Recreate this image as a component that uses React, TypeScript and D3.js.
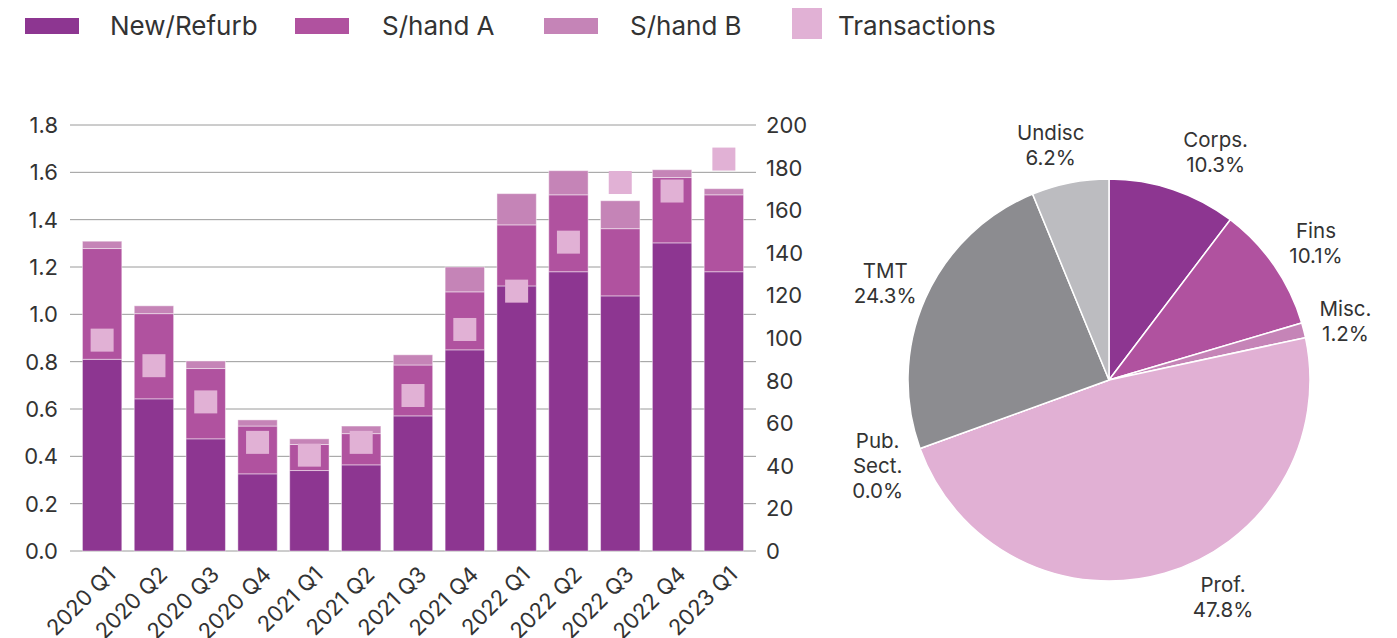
import React from 'react';
import * as d3 from 'd3';

const quarters = ['2020 Q1', '2020 Q2', '2020 Q3', '2020 Q4', '2021 Q1', '2021 Q2', '2021 Q3', '2021 Q4', '2022 Q1', '2022 Q2', '2022 Q3', '2022 Q4', '2023 Q1'];
const newRefurb = [0.81, 0.643, 0.474, 0.326, 0.34, 0.364, 0.571, 0.85, 1.12, 1.18, 1.078, 1.302, 1.18];
const shandA = [0.468, 0.36, 0.297, 0.202, 0.11, 0.132, 0.215, 0.245, 0.258, 0.325, 0.284, 0.276, 0.325];
const shandB = [0.031, 0.033, 0.032, 0.026, 0.024, 0.032, 0.043, 0.105, 0.132, 0.102, 0.118, 0.033, 0.026];
const transactions = [99, 87, 70, 51, 45, 51, 73, 104, 122, 145, 173, 169, 184];
const leftTicks = [0, 0.2, 0.4, 0.6, 0.8, 1.0, 1.2, 1.4, 1.6, 1.8];
const rightTicks = [0, 20, 40, 60, 80, 100, 120, 140, 160, 180, 200];

const sectors = ['Corps.', 'Fins', 'Misc.', 'Prof.', 'Pub. Sect.', 'TMT', 'Undisc'];
const sectorShares = [10.3, 10.1, 1.2, 47.8, 0.0, 24.3, 6.2];

const seriesNames = ['New/Refurb', 'S/hand A', 'S/hand B'];
const seriesColors = ['#8D3691', '#B0529F', '#C584B7'];
const txColor = '#E1B1D5';
const sectorColors = ['#8D3691', '#B0529F', '#C584B7', '#E1B0D4', '#D9D9DC', '#8C8C90', '#BCBCC0'];

const W = 1397;
const H = 638;
const FONT = 'Inter, "Noto Sans", sans-serif';
const TEXT = '#333333';

export default function App() {
  const plot = { left: 70, right: 756, top: 125, bottom: 551 };
  const x = d3.scaleBand<string>().domain(quarters).range([plot.left, plot.right]).padding(0.24);
  const yL = d3.scaleLinear().domain([0, 1.8]).range([plot.bottom, plot.top]);
  const yR = d3.scaleLinear().domain([0, 200]).range([plot.bottom, plot.top]);

  const rows = quarters.map((q, i) => ({ q, a: newRefurb[i], b: shandA[i], c: shandB[i] }));
  const stack = d3.stack<any>().keys(['a', 'b', 'c'])(rows);

  // pie
  const cx = 1109, cy = 380, R = 201;
  const pieGen = d3.pie<number>().sort(null).value((d) => d);
  const arcs = pieGen(sectorShares);
  const arcGen = d3.arc<d3.PieArcDatum<number>>().innerRadius(0).outerRadius(R);
  const lineH = 25;
  const sq = 23;

  const legendItems = [
    { name: seriesNames[0], color: seriesColors[0], x: 25, tx: 110, kind: 'rect' },
    { name: seriesNames[1], color: seriesColors[1], x: 295, tx: 382, kind: 'rect' },
    { name: seriesNames[2], color: seriesColors[2], x: 544, tx: 630, kind: 'rect' },
    { name: 'Transactions', color: txColor, x: 792, tx: 838, kind: 'square' },
  ];

  return (
    <svg width={W} height={H} style={{ position: 'absolute', left: 0, top: 0, background: '#fff' }} fontFamily={FONT}>
      {/* legend */}
      <g>
        {legendItems.map((it) => (
          <g key={it.name}>
            {it.kind === 'rect' ? (
              <rect x={it.x} y={18} width={54} height={16} fill={it.color} />
            ) : (
              <rect x={it.x} y={8} width={30} height={31} fill={it.color} />
            )}
            <text x={it.tx} y={25} dominantBaseline="central" fontSize={26} fill={TEXT}>{it.name}</text>
          </g>
        ))}
      </g>

      {/* gridlines */}
      <g>
        {leftTicks.map((t) => (
          <line key={t} x1={plot.left} x2={plot.right} y1={yL(t)} y2={yL(t)} stroke="#9a9a9a" strokeWidth={1} />
        ))}
      </g>
      {/* left ticks */}
      <g fontSize={22} fill={TEXT}>
        {leftTicks.map((t) => (
          <text key={t} x={58} y={yL(t)} textAnchor="end" dominantBaseline="central">{t.toFixed(1)}</text>
        ))}
      </g>
      {/* right ticks */}
      <g fontSize={22} fill={TEXT}>
        {rightTicks.map((t) => (
          <text key={t} x={766} y={yR(t)} textAnchor="start" dominantBaseline="central">{t}</text>
        ))}
      </g>

      {/* bars */}
      <g>
        {stack.map((layer, li) => (
          <g key={li} fill={seriesColors[li]}>
            {layer.map((d: any, i: number) => (
              <rect
                key={i}
                x={x(quarters[i])}
                y={yL(d[1])}
                width={x.bandwidth()}
                height={Math.max(0, yL(d[0]) - yL(d[1]))}
                stroke="#ffffff"
                strokeOpacity={0.45}
                strokeWidth={1}
              />
            ))}
          </g>
        ))}
      </g>

      {/* transactions markers */}
      <g fill={txColor}>
        {transactions.map((v, i) => (
          <rect key={i} x={(x(quarters[i]) as number) + x.bandwidth() / 2 - sq / 2} y={yR(v) - sq / 2} width={sq} height={sq} />
        ))}
      </g>

      {/* x labels */}
      <g fontSize={22} fill={TEXT}>
        {quarters.map((q) => {
          const px = (x(q) as number) + x.bandwidth() / 2 + 4;
          const py = 565;
          return (
            <text key={q} transform={`translate(${px},${py}) rotate(-45)`} textAnchor="end" dy="0.7em">{q}</text>
          );
        })}
      </g>

      {/* pie */}
      <g transform={`translate(${cx},${cy})`}>
        {arcs.map((a, i) => (
          <path key={i} d={arcGen(a) as string} fill={sectorColors[i]} stroke="#ffffff" strokeWidth={1.5} />
        ))}
        {arcs.map((a, i) => {
          const mid = (a.startAngle + a.endAngle) / 2;
          const s = Math.sin(mid), c = Math.cos(mid);
          const sg = s >= 0 ? 1 : -1;
          const pr = R + 14;
          const px = pr * s;
          const py = -pr * c;
          const lines = [...sectors[i].split(' '), `${sectorShares[i].toFixed(1)}%`];
          const h = lines.length * lineH;
          const vf = c < 0 ? 1 - 0.6 * c * c : 1;
          const centerY = py - c * (h / 2) * vf;
          const shift = 28 * sg + 12 * Math.pow(Math.max(0, c), 3) + 30 * Math.pow(Math.max(0, -c), 3) * sg;
          const y0 = centerY - h / 2 + lineH / 2;
          return (
            <text key={`l${i}`} fontSize={20.5} fill={TEXT} textAnchor="middle">
              {lines.map((ln, k) => (
                <tspan key={k} x={px + shift} y={y0 + k * lineH} dominantBaseline="central">{ln}</tspan>
              ))}
            </text>
          );
        })}
      </g>
    </svg>
  );
}
